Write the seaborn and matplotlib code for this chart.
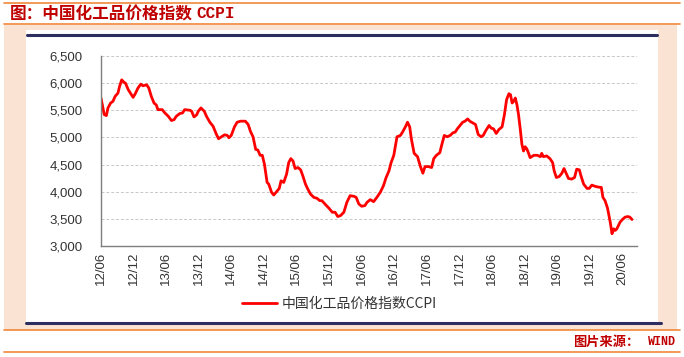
import numpy as np
import pandas as pd
import seaborn as sns
import matplotlib.pyplot as plt
import matplotlib.dates as mdates
from matplotlib.patches import Rectangle
from matplotlib.lines import Line2D
from matplotlib.ticker import StrMethodFormatter, MultipleLocator

# 数据
dates = [
    "2012-06-01", "2012-06-19", "2012-07-01", "2012-07-10", "2012-07-25", "2012-08-07",
    "2012-08-19", "2012-09-04", "2012-09-13", "2012-09-25", "2012-10-07", "2012-10-16",
    "2012-11-01", "2012-11-16", "2012-11-28", "2012-12-10", "2012-12-25", "2013-01-10",
    "2013-01-22", "2013-02-12", "2013-02-24", "2013-03-10", "2013-03-25", "2013-04-07",
    "2013-04-16", "2013-05-10", "2013-05-25", "2013-06-13", "2013-07-01", "2013-07-16",
    "2013-07-28", "2013-08-16", "2013-09-01", "2013-09-13", "2013-10-13", "2013-10-22",
    "2013-11-04", "2013-11-19", "2013-11-28", "2013-12-13", "2014-01-01", "2014-01-13",
    "2014-02-01", "2014-02-19", "2014-03-10", "2014-03-22", "2014-04-07", "2014-04-25",
    "2014-05-10", "2014-05-19", "2014-06-01", "2014-06-19", "2014-07-04", "2014-07-22",
    "2014-08-19", "2014-09-04", "2014-09-16", "2014-10-01", "2014-10-16", "2014-10-28",
    "2014-11-10", "2014-11-22", "2014-12-04", "2014-12-19", "2014-12-28", "2015-01-13",
    "2015-01-25", "2015-02-10", "2015-02-25", "2015-03-07", "2015-03-22", "2015-04-07",
    "2015-04-19", "2015-05-01", "2015-05-13", "2015-05-25", "2015-06-10", "2015-06-25",
    "2015-07-07", "2015-07-22", "2015-08-04", "2015-08-19", "2015-09-07", "2015-09-25",
    "2015-10-10", "2015-10-22", "2015-11-13", "2015-12-01", "2015-12-19", "2016-01-04",
    "2016-01-19", "2016-02-04", "2016-02-22", "2016-03-10", "2016-03-28", "2016-04-19",
    "2016-05-01", "2016-05-16", "2016-06-01", "2016-06-19", "2016-07-01", "2016-07-19",
    "2016-08-07", "2016-08-25", "2016-09-13", "2016-10-01", "2016-10-16", "2016-11-01",
    "2016-11-13", "2016-11-28", "2016-12-07", "2016-12-16", "2017-01-04", "2017-01-16",
    "2017-02-01", "2017-02-13", "2017-02-25", "2017-03-07", "2017-03-22", "2017-04-10",
    "2017-04-25", "2017-05-10", "2017-05-22", "2017-06-10", "2017-06-28", "2017-07-10",
    "2017-07-25", "2017-08-13", "2017-08-22", "2017-09-07", "2017-09-22", "2017-10-10",
    "2017-10-25", "2017-11-07", "2017-11-19", "2017-12-04", "2017-12-19", "2018-01-01",
    "2018-01-16", "2018-01-28", "2018-02-13", "2018-03-01", "2018-03-16", "2018-04-01",
    "2018-04-13", "2018-04-28", "2018-05-16", "2018-05-28", "2018-06-10", "2018-06-25",
    "2018-07-10", "2018-07-28", "2018-08-10", "2018-08-22", "2018-09-04", "2018-09-13",
    "2018-09-22", "2018-10-01", "2018-10-10", "2018-10-19", "2018-10-28", "2018-11-07",
    "2018-11-16", "2018-11-25", "2018-12-04", "2018-12-13", "2018-12-22", "2019-01-01",
    "2019-01-22", "2019-02-10", "2019-02-28", "2019-03-07", "2019-03-16", "2019-04-04",
    "2019-04-22", "2019-05-07", "2019-05-16", "2019-05-28", "2019-06-13", "2019-06-28",
    "2019-07-10", "2019-07-22", "2019-08-04", "2019-08-22", "2019-09-07", "2019-09-19",
    "2019-10-04", "2019-10-13", "2019-10-28", "2019-11-16", "2019-11-28", "2019-12-13",
    "2020-01-01", "2020-01-19", "2020-02-04", "2020-02-13", "2020-02-25", "2020-03-10",
    "2020-03-25", "2020-04-04", "2020-04-13", "2020-04-22", "2020-05-01", "2020-05-10",
    "2020-05-19", "2020-06-01", "2020-06-16", "2020-07-01", "2020-07-13", "2020-07-25",
]
ccpi = [
    5726, 5421, 5402, 5543, 5634, 5665,
    5756, 5817, 5939, 6061, 6018, 6000,
    5878, 5799, 5738, 5805, 5909, 5982,
    5951, 5970, 5909, 5756, 5634, 5598,
    5512, 5512, 5451, 5390, 5311, 5329,
    5390, 5439, 5451, 5512, 5500, 5482,
    5378, 5415, 5482, 5543, 5482, 5390,
    5280, 5207, 5055, 4976, 5012, 5049,
    5037, 4994, 5037, 5195, 5280, 5299,
    5299, 5238, 5116, 5012, 4780, 4768,
    4671, 4671, 4506, 4171, 4140, 3988,
    3939, 4000, 4061, 4201, 4171, 4323,
    4537, 4610, 4567, 4427, 4445, 4402,
    4293, 4140, 4049, 3957, 3896, 3878,
    3835, 3835, 3756, 3695, 3622, 3622,
    3543, 3561, 3622, 3805, 3927, 3915,
    3896, 3774, 3732, 3744, 3805, 3854,
    3817, 3896, 3988, 4110, 4262, 4384,
    4537, 4671, 4841, 5012, 5037, 5098,
    5195, 5280, 5195, 4963, 4707, 4646,
    4476, 4341, 4463, 4463, 4445, 4610,
    4671, 4720, 4841, 5037, 5012, 5037,
    5085, 5098, 5159, 5220, 5280, 5299,
    5341, 5299, 5268, 5238, 5055, 5012,
    5037, 5128, 5220, 5171, 5159, 5073,
    5146, 5195, 5421, 5695, 5805, 5787,
    5634, 5665, 5726, 5604, 5421, 5146,
    4872, 4750, 4829, 4793, 4720, 4628,
    4671, 4671, 4646, 4707, 4646, 4659,
    4610, 4537, 4384, 4262, 4280, 4341,
    4427, 4341, 4244, 4232, 4262, 4415,
    4402, 4293, 4140, 4061, 4061, 4122,
    4098, 4085, 4079, 3896, 3835, 3695,
    3439, 3226, 3317, 3287, 3317, 3378,
    3439, 3488, 3531, 3543, 3531, 3488,
]
series_name = "中国化工品价格指数CCPI"
title_cn = "图：中国化工品价格指数"
title_en = "CCPI"
source_cn = "图片来源："
source_en = "WIND"

df = pd.DataFrame({"date": pd.to_datetime(dates), "value": ccpi})

sns.set_style("white")
plt.rcParams["font.family"] = ["Liberation Sans", "Noto Sans CJK SC", "DejaVu Sans"]

W, H = 684, 357
fig = plt.figure(figsize=(W / 100, H / 100), dpi=100, facecolor="white")


def fx(x):
    return x / W


def fy(y):
    return 1 - y / H


orange = "#F0873A"
peach = "#FBE3D4"
navy = "#2B2E5E"
red_title = "#C00000"

# 背景
fig.add_artist(Rectangle((fx(4), fy(330)), fx(677) - fx(4), fy(25) - fy(330),
                         transform=fig.transFigure, facecolor=peach, edgecolor="none", zorder=-10))
fig.add_artist(Rectangle((fx(26), fy(324)), fx(658) - fx(26), fy(30) - fy(324),
                         transform=fig.transFigure, facecolor="white", edgecolor="none", zorder=-9))
for yy in [3, 24, 330, 352]:
    fig.add_artist(Line2D([fx(4), fx(680)], [fy(yy), fy(yy)], transform=fig.transFigure,
                          color=orange, lw=1.2, zorder=-5))
fig.add_artist(Line2D([fx(27), fx(657)], [fy(35), fy(35)], transform=fig.transFigure,
                      color=navy, lw=2.2, zorder=-5))
fig.add_artist(Line2D([fx(26), fx(661)], [fy(323), fy(323)], transform=fig.transFigure,
                      color=navy, lw=2.2, zorder=-5))

# 标题和来源
fig.text(fx(10), fy(14), title_cn, color=red_title, fontsize=12, fontweight="bold",
         family=["Noto Sans CJK SC"], va="center", ha="left")
fig.text(fx(196), fy(14), title_en, color=red_title, fontsize=11.5, fontweight="bold",
         family=["Liberation Mono"], va="center", ha="left")
fig.text(fx(573), fy(342), source_cn, color=red_title, fontsize=9.5, fontweight="bold",
         family=["Noto Sans CJK SC"], va="center", ha="left")
fig.text(fx(676), fy(342), source_en, color=red_title, fontsize=8.5, fontweight="bold",
         family=["Liberation Mono"], va="center", ha="right")

# 主图
ax = fig.add_axes([fx(101), fy(246), fx(637) - fx(101), fy(56) - fy(246)])
sns.lineplot(data=df, x="date", y="value", ax=ax, color="#FF0000", linewidth=2.0,
             label=series_name)

ax.set_ylim(3000, 6500)
ax.set_xlim(pd.Timestamp("2012-06-01"), pd.Timestamp("2020-08-22"))
ax.yaxis.set_major_locator(MultipleLocator(500))
ax.yaxis.set_major_formatter(StrMethodFormatter("{x:,.0f}"))
ax.xaxis.set_major_locator(mdates.MonthLocator(bymonth=[6, 12]))
ax.xaxis.set_major_formatter(mdates.DateFormatter("%y/%m"))
ax.set_xlabel("")
ax.set_ylabel("")

ax.grid(axis="y", color="#C8C8C8", linestyle=(0, (3, 2)), linewidth=0.7)
ax.grid(axis="x", visible=False)
sns.despine(ax=ax)
for sp in ["left", "bottom"]:
    ax.spines[sp].set_color("#7F7F7F")
    ax.spines[sp].set_linewidth(1.0)

ax.tick_params(axis="both", direction="in", length=3, width=0.8, color="#7F7F7F",
               labelcolor="#333333")
ax.tick_params(axis="y", pad=13, labelsize=9.5)
ax.tick_params(axis="x", pad=4, labelsize=9.5)
plt.setp(ax.get_xticklabels(), rotation=90)

ax.legend(loc="center left", bbox_to_anchor=(fx(242), fy(304)), bbox_transform=fig.transFigure,
          frameon=False, handlelength=2.5, handletextpad=0.35,
          borderpad=0, borderaxespad=0, prop={"family": ["Noto Sans CJK SC", "Liberation Sans"], "size": 10})
for t in ax.get_legend().get_texts():
    t.set_color("#333333")

fig.savefig("out.png", dpi=100)
